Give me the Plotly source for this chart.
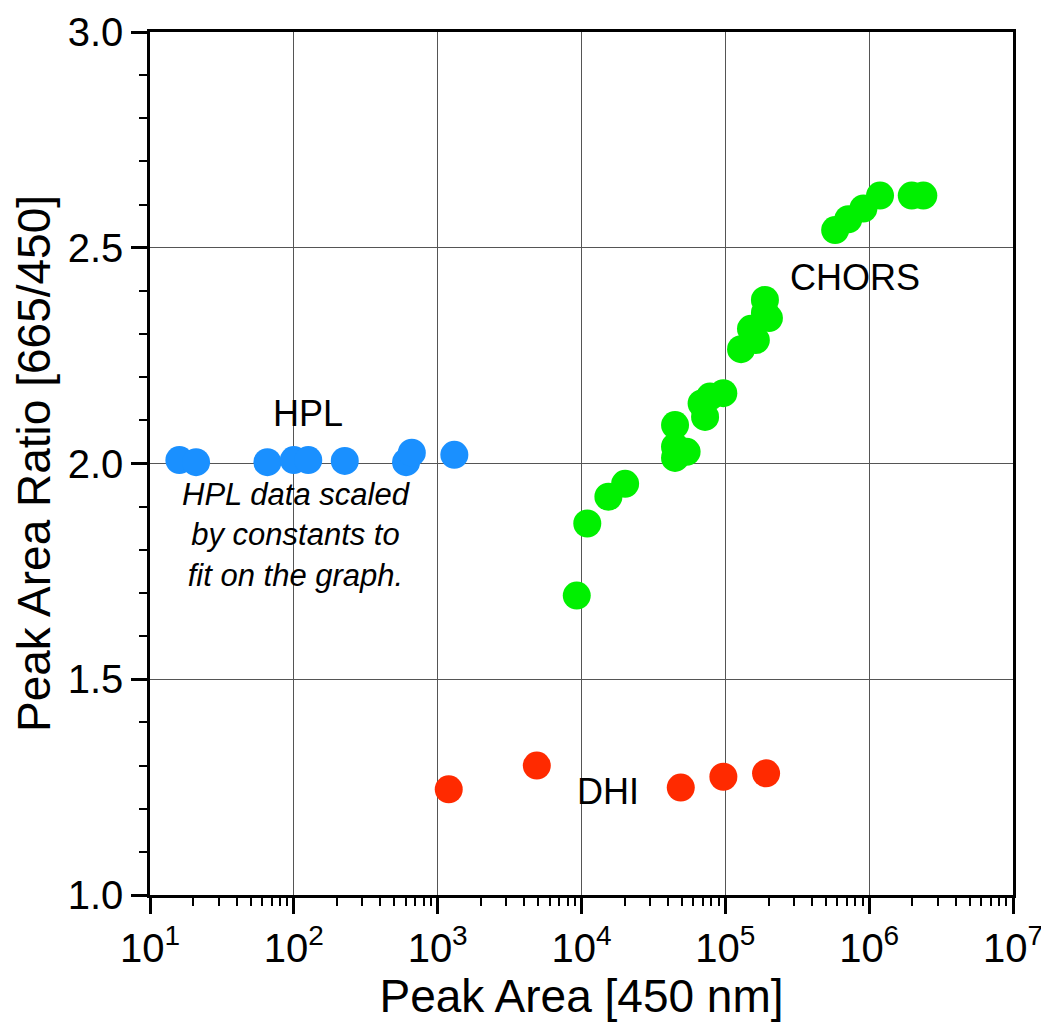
import plotly.graph_objects as go

# ---- data ----
hpl_x = [16.0, 20.9, 65.5, 100, 126, 226, 603, 661, 1306]
hpl_y = [2.008, 2.003, 2.003, 2.008, 2.008, 2.006, 2.003, 2.025, 2.020]

chors_x = [9270, 10970, 15380, 20100, 44700, 44700, 44700, 53800, 68400, 72300,
           78300, 96800, 128600, 150800, 163000, 188500, 188500, 201000,
           580000, 716000, 912000, 1190000, 1977000, 2380000]
chors_y = [1.694, 1.861, 1.923, 1.953, 2.013, 2.039, 2.089, 2.027, 2.139, 2.108,
           2.155, 2.163, 2.265, 2.312, 2.286, 2.349, 2.379, 2.337,
           2.541, 2.566, 2.591, 2.621, 2.621, 2.621]

dhi_x = [1194, 4890, 49000, 96900, 192000]
dhi_y = [1.245, 1.300, 1.249, 1.274, 1.282]

x_tickvals = [1e1, 1e2, 1e3, 1e4, 1e5, 1e6, 1e7]
x_ticktext = ["10<sup>1</sup>", "10<sup>2</sup>", "10<sup>3</sup>", "10<sup>4</sup>",
              "10<sup>5</sup>", "10<sup>6</sup>", "10<sup>7</sup>"]
x_minor = [m * 10 ** e for e in range(1, 7) for m in range(2, 10)]

FONT = "Liberation Sans, Arial, Helvetica, sans-serif"
MS = 28

fig = go.Figure()
fig.add_trace(go.Scatter(x=hpl_x, y=hpl_y, mode="markers",
                         marker=dict(size=MS, color="#1a90ff", line=dict(width=0)),
                         showlegend=False))
fig.add_trace(go.Scatter(x=chors_x, y=chors_y, mode="markers",
                         marker=dict(size=MS, color="#00f000", line=dict(width=0)),
                         showlegend=False))
fig.add_trace(go.Scatter(x=dhi_x, y=dhi_y, mode="markers",
                         marker=dict(size=MS, color="#ff2a00", line=dict(width=0)),
                         showlegend=False))

fig.add_annotation(x=2.099, y=2.117, text="HPL", showarrow=False,
                   font=dict(size=36, color="black", family=FONT))
fig.add_annotation(x=5.902, y=2.432, text="CHORS", showarrow=False,
                   font=dict(size=36, color="black", family=FONT))
fig.add_annotation(x=4.187, y=1.239, text="DHI", showarrow=False,
                   font=dict(size=36, color="black", family=FONT))
fig.add_annotation(x=2.02, y=1.834,
                   text="<i>HPL data scaled<br>by constants to<br>fit on the graph.</i>",
                   showarrow=False, align="center",
                   font=dict(size=31, color="black", family=FONT))

fig.update_xaxes(type="log", range=[1, 7],
                 tickmode="array", tickvals=x_tickvals, ticktext=x_ticktext,
                 ticks="outside", ticklen=16, tickwidth=2.5, tickcolor="black",
                 showline=True, linewidth=2.5, linecolor="black", mirror=True,
                 showgrid=True, gridcolor="#555555", gridwidth=1,
                 zeroline=False,
                 tickfont=dict(size=40, color="black", family=FONT),
                 minor=dict(tickmode="array", tickvals=x_minor, ticks="outside",
                            ticklen=8, tickwidth=2, tickcolor="black", showgrid=False),
                 title=dict(text="Peak Area [450 nm]", standoff=12,
                            font=dict(size=46, color="black", family=FONT)))
fig.update_yaxes(range=[1, 3], tickmode="linear", tick0=1, dtick=0.5, tickformat=".1f",
                 ticks="outside", ticklen=16, tickwidth=2.5, tickcolor="black",
                 showline=True, linewidth=2.5, linecolor="black", mirror=True,
                 showgrid=True, gridcolor="#555555", gridwidth=1,
                 zeroline=False,
                 tickfont=dict(size=40, color="black", family=FONT),
                 minor=dict(dtick=0.1, ticks="outside", ticklen=8, tickwidth=2,
                            tickcolor="black", showgrid=False),
                 title=dict(text="Peak Area Ratio [665/450]", standoff=4,
                            font=dict(size=46, color="black", family=FONT)))

fig.update_layout(width=1041, height=1018,
                  margin=dict(l=142, r=36, t=24, b=131, autoexpand=False),
                  plot_bgcolor="white", paper_bgcolor="white",
                  font=dict(family=FONT, color="black"))

fig.write_html("out.html")
